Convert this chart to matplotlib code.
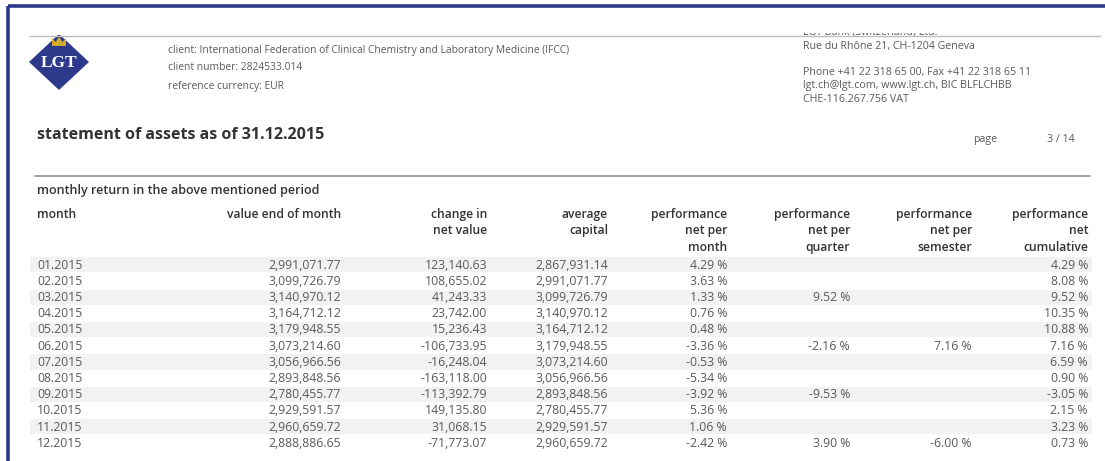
import matplotlib
matplotlib.use("Agg")
import matplotlib.pyplot as plt
from matplotlib.patches import Polygon, Rectangle

# ---------------- data ----------------
months = ["01.2015", "02.2015", "03.2015", "04.2015", "05.2015", "06.2015",
          "07.2015", "08.2015", "09.2015", "10.2015", "11.2015", "12.2015"]
value_end = ["2,991,071.77", "3,099,726.79", "3,140,970.12", "3,164,712.12",
             "3,179,948.55", "3,073,214.60", "3,056,966.56", "2,893,848.56",
             "2,780,455.77", "2,929,591.57", "2,960,659.72", "2,888,886.65"]
change_net = ["123,140.63", "108,655.02", "41,243.33", "23,742.00", "15,236.43",
              "-106,733.95", "-16,248.04", "-163,118.00", "-113,392.79",
              "149,135.80", "31,068.15", "-71,773.07"]
avg_capital = ["2,867,931.14", "2,991,071.77", "3,099,726.79", "3,140,970.12",
               "3,164,712.12", "3,179,948.55", "3,073,214.60", "3,056,966.56",
               "2,893,848.56", "2,780,455.77", "2,929,591.57", "2,960,659.72"]
perf_month = ["4.29 %", "3.63 %", "1.33 %", "0.76 %", "0.48 %", "-3.36 %",
              "-0.53 %", "-5.34 %", "-3.92 %", "5.36 %", "1.06 %", "-2.42 %"]
perf_quarter = ["", "", "9.52 %", "", "", "-2.16 %", "", "", "-9.53 %", "", "", "3.90 %"]
perf_semester = ["", "", "", "", "", "7.16 %", "", "", "", "", "", "-6.00 %"]
perf_cum = ["4.29 %", "8.08 %", "9.52 %", "10.35 %", "10.88 %", "7.16 %",
            "6.59 %", "0.90 %", "-3.05 %", "2.15 %", "3.23 %", "0.73 %"]

headers = ["month", "value end of month", "change in\nnet value", "average\ncapital",
           "performance\nnet per\nmonth", "performance\nnet per\nquarter",
           "performance\nnet per\nsemester", "performance\nnet\ncumulative"]

client_lines = ["client: International Federation of Clinical Chemistry and Laboratory Medicine (IFCC)",
                "client number: 2824533.014",
                "reference currency: EUR"]
bank_lines = ["LGT Bank (Switzerland) Ltd.",
              "Rue du Rhône 21, CH-1204 Geneva"]
contact_lines = ["Phone +41 22 318 65 00, Fax +41 22 318 65 11",
                 "lgt.ch@lgt.com, www.lgt.ch, BIC BLFLCHBB",
                 "CHE-116.267.756 VAT"]
title = "statement of assets as of 31.12.2015"
subtitle = "monthly return in the above mentioned period"
page_label = "page"
page_no = "3 / 14"

# ---------------- figure ----------------
W, H = 1105, 461
fig = plt.figure(figsize=(W / 100, H / 100), dpi=100)
ax = fig.add_axes([0, 0, 1, 1])
ax.set_xlim(0, W)
ax.set_ylim(H, 0)
ax.axis("off")

FONT = ["Open Sans", "DejaVu Sans"]
TXT = "#5a5a5a"
DARK = "#333333"
BLUE = "#2d3a8c"

# border
ax.plot([8, W], [6, 6], color=BLUE, lw=2.6, solid_capstyle="butt")
ax.plot([8, 8], [6, H], color=BLUE, lw=2.6, solid_capstyle="butt")

# bank name cut at the top
ax.text(803, 35, bank_lines[0], fontsize=7.7, family=FONT, color=TXT, va="baseline")
ax.add_patch(Rectangle((780, 10), 260, 23, facecolor="white", edgecolor="none", zorder=3))

# top grey line
ax.plot([30, 1100], [36, 36], color="#bdbdbd", lw=1.0, zorder=4)

# logo
ax.add_patch(Polygon([[59, 34], [89, 62], [59, 90], [29, 62]], closed=True,
                     facecolor=BLUE, edgecolor="none", zorder=2))
ax.add_patch(Rectangle((20, 20), 80, 15.5, facecolor="white", edgecolor="none", zorder=3))
ax.add_patch(Polygon([[52, 46], [52, 38], [55.5, 42], [59, 37], [62.5, 42], [66, 38], [66, 46]],
                     closed=True, facecolor="#d4aa2a", edgecolor="none", zorder=5))
ax.text(59, 63, "LGT", fontsize=12.5, family=["Liberation Serif", "DejaVu Serif"],
        weight="bold", color="white", ha="center", va="center", zorder=5)

# client info
for i, line in enumerate(client_lines):
    ax.text(168, 50 + i * 18, line, fontsize=7.4, family=FONT, color=TXT, va="center")

ax.text(803, 46, bank_lines[1], fontsize=7.7, family=FONT, color=TXT, va="center")
for i, line in enumerate(contact_lines):
    ax.text(803, 72 + i * 13.5, line, fontsize=7.7, family=FONT, color=TXT, va="center")

# title and page
ax.text(37, 135, title, fontsize=11.5, family=FONT, weight="bold", color=DARK, va="center")
ax.text(973, 139, page_label, fontsize=7.7, family=FONT, color=TXT, va="center")
ax.text(1075, 139, page_no, fontsize=7.7, family=FONT, color=TXT, va="center", ha="right")

# separator
ax.plot([35, 1090], [176, 176], color="#8a8a8a", lw=1.1)

ax.text(37, 190, subtitle, fontsize=9.0, family=FONT, weight="semibold", color=DARK, va="center")

# columns
col_x = [37, 341, 487, 608, 727, 850, 972, 1088]
col_ha = ["left"] + ["right"] * 7
hdr_top = 214
for x, ha, h in zip(col_x, col_ha, headers):
    for j, part in enumerate(h.split("\n")):
        ax.text(x, hdr_top + j * 16.5, part, fontsize=8.7, family=FONT,
                weight="semibold", color=DARK, ha=ha, va="center")

columns = [months, value_end, change_net, avg_capital, perf_month,
           perf_quarter, perf_semester, perf_cum]
row0, dy = 265, 16.2
for i in range(len(months)):
    y = row0 + i * dy
    if i % 2 == 0:
        ax.add_patch(Rectangle((30, y - 7.8), 1062, 15.2, facecolor="#f1f2f3",
                               edgecolor="none", zorder=0))
    for x, ha, col in zip(col_x, col_ha, columns):
        if col[i]:
            ax.text(x, y, col[i], fontsize=8.8, family=FONT, color=TXT,
                    ha=ha, va="center", zorder=2)

fig.savefig("out.png", dpi=100)
